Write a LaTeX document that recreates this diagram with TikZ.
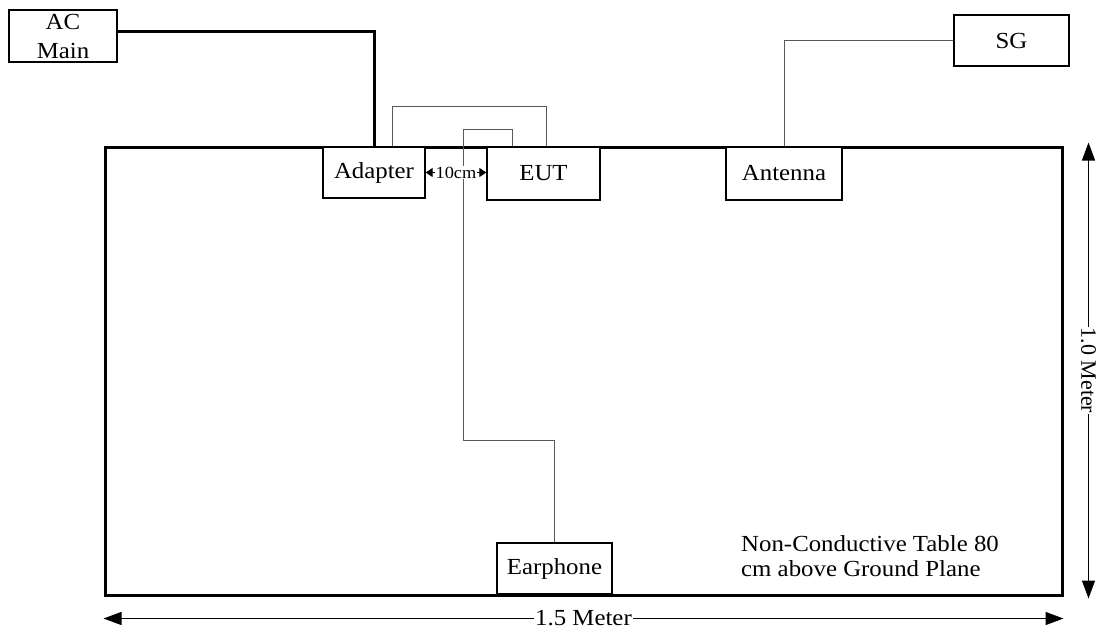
\documentclass[tikz,border=0pt]{standalone}
\usepackage{fontspec}
\setmainfont{Liberation Serif}[FakeStretch=1.08]
\newfontfamily\rotfont{Liberation Serif}
\usetikzlibrary{arrows.meta}
\begin{document}
\begin{tikzpicture}[x=1pt,y=-1pt,
  box/.style={draw, line width=1.3pt, fill=white, inner sep=0pt, font=\fontsize{23}{25}\selectfont},
  cable/.style={line width=1pt, draw=black!65},
  power/.style={line width=3pt},
  dim/.style={line width=1.2pt, {Triangle[length=18pt,width=13pt]}-{Triangle[length=18pt,width=13pt]}},
  gap/.style={line width=1pt, {Triangle[length=7pt,width=9pt]}-{Triangle[length=7pt,width=9pt]}},
  txt/.style={font=\fontsize{23}{25}\selectfont, inner sep=0pt}]
\useasboundingbox (0,0) rectangle (1097,635);
% table
\node[draw, line width=3pt, minimum width=957pt, minimum height=448pt, inner sep=0pt] (tab) at (583.5,371) {};
% boxes
\node[box, minimum width=108pt, minimum height=52pt, align=center, font=\fontsize{23}{29}\selectfont] (ac) at (63,36) {AC\\Main};
\node[box, minimum width=102pt, minimum height=51pt] (adapter) at (374,172.5) {Adapter};
\node[box, minimum width=113pt, minimum height=53pt] (eut) at (543.5,173.5) {EUT};
\node[box, minimum width=116pt, minimum height=53pt] (antenna) at (784,173.5) {Antenna};
\node[box, minimum width=115pt, minimum height=51pt] (sg) at (1011.5,40.5) {SG};
\node[box, minimum width=115pt, minimum height=51pt] (ear) at (554.5,568.5) {Earphone};
% power cable
\draw[power] ([yshift=5pt]ac.east) -| (adapter.north);
% antenna cable
\draw[cable] (antenna.north) |- (sg.west);
% adapter-EUT loop
\coordinate (k1) at (392,106);
\coordinate (k2) at (546,106);
\draw[cable] (k1 |- adapter.north) -- (k1) -- (k2) -- (k2 |- eut.north);
% EUT-earphone cable
\coordinate (m1) at (463,129);
\coordinate (m2) at (512,129);
\coordinate (m3) at (463,440);
\draw[cable] (m2 |- eut.north) -- (m2) -- (m1) -- (m3) -| (ear.north);
% 10cm
\draw[gap] (adapter.east) -- (eut.west |- adapter.east)
  node[midway, fill=white, inner sep=1pt, font=\fontsize{17}{19}\selectfont] (gaplbl) {10cm};
% note
\node[txt, anchor=base west] (note1) at (741,551) {Non-Conductive Table 80};
\node[txt, anchor=base west] (note2) at (741,576) {cm above Ground Plane};
% dimensions
\draw[dim] ([xshift=25pt,yshift=3pt]tab.north east) -- ([xshift=25pt,yshift=-2pt]tab.south east)
  node[midway, fill=white, inner sep=1pt, rotate=-90, font=\rotfont\fontsize{22}{24}\selectfont] (hlbl) {1.0 Meter};
\draw[dim] ([yshift=-22pt]tab.south west) -- ([yshift=-22pt]tab.south east)
  node[midway, fill=white, inner sep=1pt, font=\fontsize{23}{25}\selectfont] (wlbl) {1.5 Meter};
\end{tikzpicture}
\end{document}
